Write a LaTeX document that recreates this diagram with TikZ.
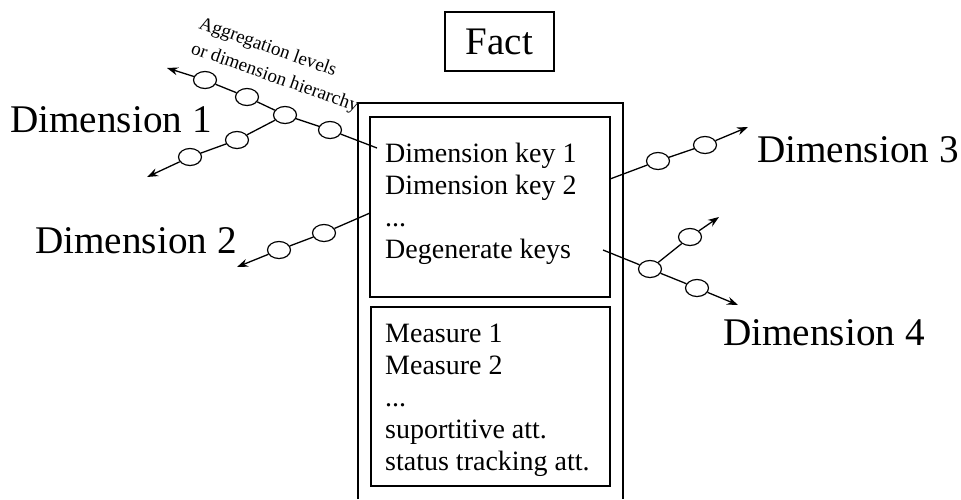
\documentclass[tikz,border=0pt]{standalone}
\usepackage{fontspec}
\setmainfont{Liberation Serif}
\usetikzlibrary{arrows.meta,shapes.geometric}
\begin{document}
\begin{tikzpicture}[x=1pt,y=-1pt,
  link/.style={line width=1.3pt},
  arrowlink/.style={link,-{Stealth[length=11pt,width=8pt]}},
  level/.style={ellipse,draw,line width=1.2pt,fill=white,
    minimum width=23pt,minimum height=17pt,inner sep=0pt},
  frame/.style={line width=1.1pt},
  dimlabel/.style={font=\fontsize{39.2}{44}\selectfont,inner sep=0pt,anchor=base west},
  row/.style={font=\fontsize{28}{32}\selectfont,inner sep=0pt,anchor=base west},
  note/.style={font=\fontsize{19}{24}\selectfont,inner sep=0pt,anchor=base west,rotate=-19.5},
]
\useasboundingbox (0,0) rectangle (961,499);

% title box
\node[draw,frame,minimum width=109pt,minimum height=59pt,inner sep=0pt,
  font=\fontsize{39}{44}\selectfont] (fact) at (499.5,41.5) {Fact};

% fact table: outer frame open at the bottom, two compartments
\coordinate (obl) at (358,499);
\coordinate (otl) at (358,103);
\coordinate (otr) at (623,103);
\coordinate (obr) at (623,499);
\draw[frame] (obl) -- (otl) -- (otr) -- (obr);
\node[draw,frame,minimum width=240pt,minimum height=180pt,inner sep=0pt] (keys) at (490,207) {};
\node[draw,frame,minimum width=239pt,minimum height=179pt,inner sep=0pt] (measures) at (490.5,396.5) {};

% key compartment
\node[row] (key1) at (385,162) {Dimension key 1};
\node[row] (key2) at (385,194) {Dimension key 2};
\node[row] (kdots) at (385,226) {...};
\node[row] (degen) at (385,258) {Degenerate keys};

% measure compartment
\node[row] (meas1) at (385,342) {Measure 1};
\node[row] (meas2) at (385,374) {Measure 2};
\node[row] (mdots) at (385,406) {...};
\node[row] (supp) at (385,438) {suportitive att.};
\node[row] (stat) at (385,470) {status tracking att.};

% dimension names
\node[dimlabel] (dim1) at (10,132) {Dimension 1};
\node[dimlabel] (dim2) at (35,253) {Dimension 2};
\node[dimlabel] (dim3) at (757,162) {Dimension 3};
\node[dimlabel] (dim4) at (723,345) {Dimension 4};

% hierarchy note along the upper chain of dimension 1 (left aligned lines)
\node[note] (agg1) at (198,28) {Aggregation levels};
\node[note] (agg2) at (190,53) {or dimension hierarchy};

% dimension 1: two hierarchies sharing one level
\coordinate (k1) at (377,148);
\node[level] (d1a) at (330,130) {};
\node[level] (d1b) at (285,115) {};
\node[level] (d1c) at (247,97) {};
\node[level] (d1d) at (205,80) {};
\coordinate (d1tipa) at (167,68);
\node[level] (d1e) at (237,140) {};
\node[level] (d1f) at (190,157) {};
\coordinate (d1tipb) at (147,177);
\draw[link] (k1) -- (d1a) -- (d1b) -- (d1c) -- (d1d);
\draw[arrowlink] (d1d) -- (d1tipa);
\draw[link] (d1b) -- (d1e) -- (d1f);
\draw[arrowlink] (d1f) -- (d1tipb);

% dimension 2
\coordinate (k2) at (370,213);
\node[level] (d2a) at (324,233) {};
\node[level] (d2b) at (279,250) {};
\coordinate (d2tip) at (237,267);
\draw[link] (k2) -- (d2a) -- (d2b);
\draw[arrowlink] (d2b) -- (d2tip);

% dimension 3
\coordinate (k3) at (610,179);
\node[level] (d3a) at (658,161) {};
\node[level] (d3b) at (705,145) {};
\coordinate (d3tip) at (748,127);
\draw[link] (k3) -- (d3a) -- (d3b);
\draw[arrowlink] (d3b) -- (d3tip);

% dimension 4: one level branching in two
\coordinate (k4) at (603,250);
\node[level] (d4a) at (650,269) {};
\node[level] (d4b) at (690,237) {};
\node[level] (d4c) at (697,288) {};
\coordinate (d4tipa) at (719,217);
\coordinate (d4tipb) at (738,305);
\draw[link] (k4) -- (d4a);
\draw[link] (d4a) -- (d4b);
\draw[arrowlink] (d4b) -- (d4tipa);
\draw[link] (d4a) -- (d4c);
\draw[arrowlink] (d4c) -- (d4tipb);
\end{tikzpicture}
\end{document}
